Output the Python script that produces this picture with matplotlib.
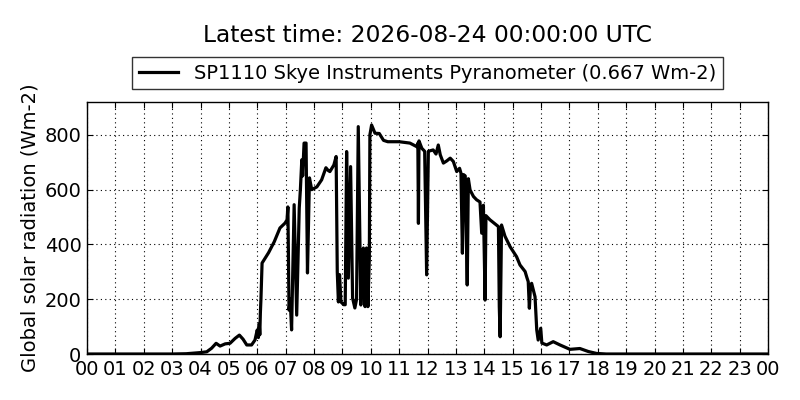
import matplotlib
matplotlib.use("Agg")
import matplotlib.pyplot as plt
import numpy as np

plt.rcParams['font.family'] = ['DejaVu Sans']

# hours since 00 UTC
hours = [0.0, 3.0, 3.5, 3.98, 4.22, 4.39, 4.55, 4.69, 4.87, 5.04, 5.22, 5.37, 5.5, 5.63, 5.8,
         5.92, 6.0, 6.04, 6.07, 6.09, 6.11, 6.13, 6.17, 6.4, 6.6, 6.8, 6.98, 7.05, 7.08,
         7.12, 7.16, 7.21, 7.3, 7.39, 7.48, 7.52, 7.57, 7.6, 7.65, 7.72, 7.77, 7.84, 7.92,
         8.1, 8.27, 8.42, 8.5, 8.56, 8.7, 8.78, 8.82, 8.86, 8.9, 8.95, 9.05, 9.1, 9.15,
         9.21, 9.29, 9.36, 9.44, 9.5, 9.56, 9.65, 9.7, 9.74, 9.8, 9.85, 9.9, 9.95, 9.97,
         10.03, 10.15, 10.3, 10.45, 10.6, 11.0, 11.38, 11.62, 11.66, 11.68, 11.7, 11.8,
         11.9, 11.97, 12.03, 12.2, 12.3, 12.38, 12.45, 12.56, 12.68, 12.8, 12.91, 13.03,
         13.13, 13.18, 13.23, 13.27, 13.33, 13.4, 13.44, 13.5, 13.62, 13.73, 13.85, 13.91,
         13.97, 14.03, 14.06, 14.2, 14.5, 14.53, 14.56, 14.61, 14.73, 14.91, 15.14, 15.26,
         15.44, 15.5, 15.55, 15.59, 15.63, 15.67, 15.75, 15.79, 15.85, 15.9, 15.99, 16.03,
         16.2, 16.43, 16.67, 17.02, 17.37, 17.67, 17.96, 18.3, 24.0]
radiation = [0, 0, 1, 5, 8, 21, 39, 29, 37, 39, 57, 69, 54, 33, 33,
             51, 88, 60, 110, 70, 150, 200, 332, 370, 410, 460, 478, 490, 537,
             160, 200, 88, 545, 142, 533, 600, 709, 650, 770, 770, 296, 643, 600,
             610, 636, 680, 670, 666, 690, 721, 300, 190, 290, 190, 180, 180, 739,
             277, 684, 204, 168, 200, 830, 179, 300, 387, 173, 387, 173, 350, 800,
             836, 806, 805, 780, 775, 775, 770, 757, 770, 477, 778, 751,
             740, 289, 740, 745, 730, 763, 727, 697, 705, 715, 703, 666,
             678, 660, 368, 655, 650, 252, 640, 599, 575, 563, 555, 441,
             543, 197, 505, 490, 465, 173, 63, 471, 430, 392, 355, 325,
             301, 280, 264, 167, 250, 258, 225, 209, 88, 51, 94, 40,
             33, 45, 33, 17, 20, 9, 2, 0, 0]
tick_labels = ["%02d" % (h % 24) for h in range(25)]
series_label = "SP1110 Skye Instruments Pyranometer (0.667 Wm-2)"
title = "Latest time: 2026-08-24 00:00:00 UTC"

fig = plt.figure(figsize=(8, 4), dpi=100, facecolor='white')
ax = fig.add_axes([0.10875, 0.115, 0.85125, 0.63])
ax.plot(hours, radiation, color='black', linewidth=2.3, label=series_label)
ax.set_xlim(0, 24)
ax.set_ylim(0, 920)
ax.set_xticks(range(25))
ax.set_xticklabels(tick_labels)
ax.set_yticks([0, 200, 400, 600, 800])
ax.tick_params(direction='in', top=True, right=True, labelsize=14, length=4, pad=4)
ax.grid(True, color='black', linestyle=(0, (1, 3)), linewidth=0.8)
ax.set_ylabel("Global solar radiation (Wm-2)", fontsize=14)
for s in ax.spines.values():
    s.set_linewidth(1.0)
leg = ax.legend(loc='center', bbox_to_anchor=(0.5, 1.115), fontsize=14, frameon=True,
                fancybox=False, borderpad=0.35, handlelength=2.0, borderaxespad=0)
leg.get_frame().set_edgecolor('black')
leg.get_frame().set_linewidth(1.0)
fig.text(0.534, 0.912, title, ha='center', va='center', fontsize=16.8)
fig.savefig("out.png", dpi=100, facecolor='white')
